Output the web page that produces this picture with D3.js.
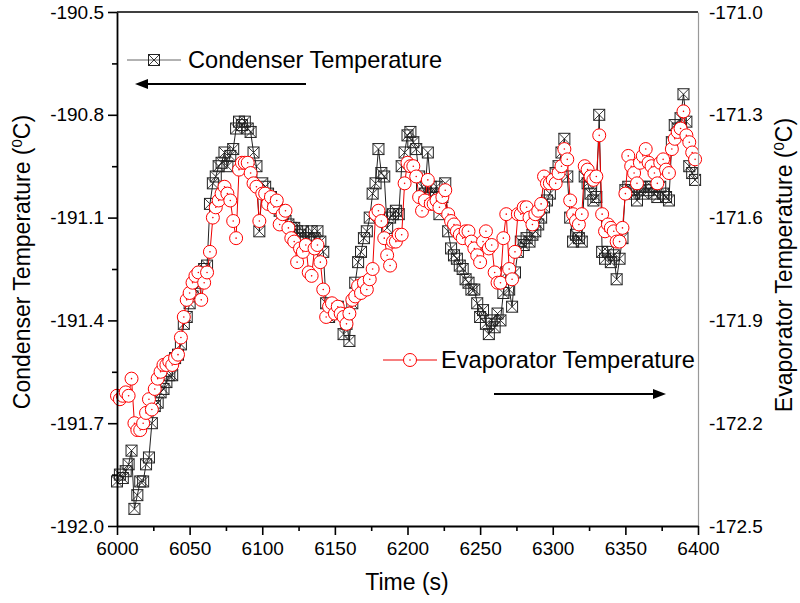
<!DOCTYPE html>
<html>
<head>
<meta charset="utf-8">
<script src="https://cdnjs.cloudflare.com/ajax/libs/d3/7.8.5/d3.min.js"></script>
<style>
  html, body { margin: 0; padding: 0; background: #fff; }
  svg { display: block; font-family: "Liberation Sans", Arial, sans-serif; }
</style>
</head>
<body>
<svg id="chart" width="800" height="603"></svg>
<script>
// ---------------- data ----------------
const timeStart = 6000, timeEnd = 6400, timeStep = 2;
const times = d3.range(timeStart, timeEnd, timeStep);

const condenserTemp = [
  -191.87,-191.85,-191.86,-191.84,-191.82,-191.78,-191.95,-191.91,-191.87,-191.87,
  -191.82,-191.80,-191.70,-191.65,-191.64,-191.61,-191.60,-191.58,-191.56,-191.56,
  -191.51,-191.50,-191.47,-191.41,-191.39,-191.35,-191.33,-191.31,-191.29,-191.26,
  -191.25,-191.24,-191.06,-191.00,-190.98,-190.95,-190.94,-190.91,-190.95,-190.92,
  -190.90,-190.84,-190.82,-190.83,-190.82,-190.84,-190.85,-190.91,-190.95,-191.14,
  -191.00,-191.01,-191.03,-191.04,-191.06,-191.07,-191.08,-191.09,-191.11,-191.12,
  -191.13,-191.13,-191.14,-191.15,-191.14,-191.16,-191.16,-191.14,-191.16,-191.14,
  -191.17,-191.20,-191.35,-191.39,-191.36,-191.38,-191.36,-191.38,-191.44,-191.41,
  -191.46,-191.35,-191.29,-191.23,-191.20,-191.16,-191.14,-191.10,-191.03,-191.00,
  -190.90,-190.97,-190.98,-191.13,-191.10,-191.09,-191.08,-191.09,-190.95,-190.91,
  -190.86,-190.85,-190.88,-190.90,-190.98,-191.01,-191.03,-190.91,-191.01,-191.03,
  -191.01,-191.09,-191.04,-191.00,-191.14,-191.19,-191.21,-191.22,-191.24,-191.25,
  -191.28,-191.29,-191.31,-191.31,-191.35,-191.39,-191.37,-191.41,-191.44,-191.40,
  -191.42,-191.38,-191.40,-191.32,-191.26,-191.31,-191.36,-191.26,-191.20,-191.17,
  -191.18,-191.16,-191.17,-191.15,-191.14,-191.12,-191.10,-191.07,-191.05,-191.03,
  -191.00,-190.97,-190.95,-190.91,-190.87,-190.98,-191.10,-191.17,-191.15,-191.16,
  -191.17,-190.98,-191.00,-191.03,-191.05,-191.04,-190.80,-191.20,-191.22,-191.20,
  -191.23,-191.21,-191.28,-191.22,-191.16,-191.02,-191.01,-191.02,-191.03,-191.05,
  -191.01,-191.03,-191.01,-191.02,-191.01,-191.03,-191.04,-191.01,-191.03,-191.04,
  -191.05,-190.88,-190.83,-190.84,-190.81,-190.74,-190.82,-190.95,-190.97,-190.99
];

const evaporatorTemp = [
  -172.12,-172.13,-172.12,-172.11,-172.12,-172.07,-172.20,-172.22,-172.22,-172.20,
  -172.17,-172.13,-172.16,-172.10,-172.07,-172.05,-172.03,-172.03,-172.02,-172.03,
  -172.01,-172.00,-171.95,-171.89,-171.84,-171.82,-171.79,-171.77,-171.76,-171.84,
  -171.79,-171.76,-171.70,-171.60,-171.57,-171.55,-171.53,-171.51,-171.53,-171.55,
  -171.61,-171.66,-171.46,-171.44,-171.44,-171.44,-171.47,-171.50,-171.51,-171.61,
  -171.53,-171.53,-171.56,-171.54,-171.57,-171.55,-171.62,-171.59,-171.58,-171.63,
  -171.66,-171.67,-171.73,-171.69,-171.70,-171.68,-171.76,-171.77,-171.69,-171.68,
  -171.73,-171.81,-171.89,-171.86,-171.85,-171.88,-171.86,-171.88,-171.89,-171.91,
  -171.88,-171.84,-171.83,-171.80,-171.82,-171.79,-171.81,-171.78,-171.75,-171.59,
  -171.58,-171.61,-171.66,-171.71,-171.74,-171.67,-171.67,-171.65,-171.65,-171.50,
  -171.44,-171.45,-171.45,-171.48,-171.54,-171.58,-171.55,-171.49,-171.56,-171.56,
  -171.55,-171.57,-171.54,-171.52,-171.59,-171.61,-171.62,-171.64,-171.65,-171.66,
  -171.64,-171.64,-171.67,-171.69,-171.71,-171.73,-171.67,-171.64,-171.69,-171.68,
  -171.76,-171.79,-171.79,-171.66,-171.59,-171.75,-171.78,-171.70,-171.59,-171.59,
  -171.57,-171.57,-171.60,-171.62,-171.59,-171.58,-171.56,-171.48,-171.50,-171.50,
  -171.49,-171.50,-171.47,-171.45,-171.40,-171.43,-171.55,-171.59,-171.61,-171.62,
  -171.59,-171.45,-171.46,-171.48,-171.49,-171.48,-171.36,-171.59,-171.64,-171.62,
  -171.63,-171.64,-171.67,-171.67,-171.63,-171.53,-171.42,-171.45,-171.47,-171.50,
  -171.44,-171.42,-171.40,-171.44,-171.45,-171.47,-171.50,-171.44,-171.43,-171.46,
  -171.47,-171.40,-171.37,-171.35,-171.34,-171.29,-171.36,-171.38,-171.41,-171.43
];

const xTicks = [6000, 6050, 6100, 6150, 6200, 6250, 6300, 6350, 6400];
const xMinorTicks = [6025, 6075, 6125, 6175, 6225, 6275, 6325, 6375];
const leftTicks = [-192.0, -191.7, -191.4, -191.1, -190.8, -190.5];
const leftMinorTicks = [-191.85, -191.55, -191.25, -190.95, -190.65];
const rightTicks = [-172.5, -172.2, -171.9, -171.6, -171.3, -171.0];

const seriesNames = ["Condenser Temperature", "Evaporator Temperature"];

// ---------------- layout ----------------
const svg = d3.select("#chart");
const L = 117, R = 698, T = 12, B = 526;

const x = d3.scaleLinear().domain([6000, 6400]).range([L, R]);
const yL = d3.scaleLinear().domain([-192.0, -190.5]).range([B, T]);
const yR = d3.scaleLinear().domain([-172.5, -171.0]).range([B, T]);

const condData = times.map((t, i) => ({ t, v: condenserTemp[i] }));
const evapData = times.map((t, i) => ({ t, v: evaporatorTemp[i] }));

// ---------------- marker helpers ----------------
function boxX(g, cx, cy, s) {
  const h = s / 2;
  g.append("rect").attr("x", cx - h).attr("y", cy - h).attr("width", s).attr("height", s)
    .attr("fill", "none").attr("stroke", "#222").attr("stroke-width", 1);
  g.append("path").attr("d", `M${cx - h},${cy - h}L${cx + h},${cy + h}M${cx + h},${cy - h}L${cx - h},${cy + h}`)
    .attr("stroke", "#222").attr("stroke-width", 0.9).attr("fill", "none");
}
function ringDot(g, cx, cy, r) {
  g.append("circle").attr("cx", cx).attr("cy", cy).attr("r", r)
    .attr("fill", "#fff").attr("stroke", "#ff0000").attr("stroke-width", 1);
  g.append("circle").attr("cx", cx).attr("cy", cy).attr("r", 0.8).attr("fill", "#ff0000");
}

// ---------------- series ----------------
const plot = svg.append("g");

plot.append("path").datum(condData)
  .attr("fill", "none").attr("stroke", "#222").attr("stroke-width", 1)
  .attr("d", d3.line().x(d => x(d.t)).y(d => yL(d.v)));

const sq = plot.append("g");
condData.forEach(d => boxX(sq, x(d.t), yL(d.v), 11));

plot.append("path").datum(evapData)
  .attr("fill", "none").attr("stroke", "#e00").attr("stroke-width", 1)
  .attr("d", d3.line().x(d => x(d.t)).y(d => yR(d.v)));

const circ = plot.append("g");
evapData.forEach(d => ringDot(circ, x(d.t), yR(d.v), 6.5));

// ---------------- axes ----------------
const fmt = d => d.toFixed(1);
const fontSize = "19px";

// top frame line
svg.append("line").attr("x1", L).attr("x2", R).attr("y1", T).attr("y2", T)
  .attr("stroke", "#000").attr("stroke-width", 1.4);

// right axis (labels only, gray line)
const gR = svg.append("g").attr("transform", `translate(${R},0)`)
  .call(d3.axisRight(yR).tickValues(rightTicks).tickFormat(fmt).tickSize(0).tickPadding(11));
gR.select(".domain").attr("stroke", "#999").attr("stroke-width", 1.2);
gR.selectAll("text").attr("font-size", fontSize).attr("font-family", "Liberation Sans, Arial, sans-serif").attr("fill", "#000");

// bottom axis
const gBm = svg.append("g").attr("transform", `translate(0,${B})`)
  .call(d3.axisBottom(x).tickValues(xMinorTicks).tickFormat("").tickSize(5).tickSizeOuter(0));
gBm.select(".domain").remove();
gBm.selectAll("line").attr("stroke-width", 1.6);
const gB = svg.append("g").attr("transform", `translate(0,${B})`)
  .call(d3.axisBottom(x).tickValues(xTicks).tickFormat(d => String(d)).tickSize(9).tickSizeOuter(0).tickPadding(7));
gB.select(".domain").attr("stroke-width", 1.8);
gB.selectAll("line").attr("stroke-width", 1.6);
gB.selectAll("text").attr("font-size", fontSize).attr("font-family", "Liberation Sans, Arial, sans-serif").attr("fill", "#000");

// left axis
const gLm = svg.append("g").attr("transform", `translate(${L},0)`)
  .call(d3.axisLeft(yL).tickValues(leftMinorTicks).tickFormat("").tickSize(5).tickSizeOuter(0));
gLm.select(".domain").remove();
gLm.selectAll("line").attr("stroke-width", 1.6);
const gL = svg.append("g").attr("transform", `translate(${L},0)`)
  .call(d3.axisLeft(yL).tickValues(leftTicks).tickFormat(fmt).tickSize(9).tickSizeOuter(0).tickPadding(4));
gL.select(".domain").attr("stroke-width", 1.8);
gL.selectAll("line").attr("stroke-width", 1.6);
gL.selectAll("text").attr("font-size", fontSize).attr("font-family", "Liberation Sans, Arial, sans-serif").attr("fill", "#000");

// ---------------- titles ----------------
svg.append("text").attr("x", 407).attr("y", 590).attr("text-anchor", "middle")
  .attr("font-size", "23px").text("Time (s)");

function rotTitle(cx, cy, label) {
  const t = svg.append("text").attr("transform", `translate(${cx},${cy}) rotate(-90)`)
    .attr("text-anchor", "middle").attr("font-size", "23px");
  t.append("tspan").text(label + " (");
  t.append("tspan").attr("font-size", "15px").attr("dy", "-8").text("0");
  t.append("tspan").attr("dy", "8").text("C)");
}
rotTitle(30, 262, "Condenser Temperature");
rotTitle(792, 265, "Evaporator Temperature");

// ---------------- legends ----------------
const lg = svg.append("g");
lg.append("line").attr("x1", 127).attr("x2", 181).attr("y1", 60).attr("y2", 60)
  .attr("stroke", "#666").attr("stroke-width", 1);
boxX(lg, 154, 60, 11);
lg.append("text").attr("x", 188).attr("y", 68).attr("font-size", "23.6px").text(seriesNames[0]);

lg.append("line").attr("x1", 383).attr("x2", 437).attr("y1", 360).attr("y2", 360)
  .attr("stroke", "#e00").attr("stroke-width", 1);
ringDot(lg, 410, 360, 6.5);
lg.append("text").attr("x", 441).attr("y", 368).attr("font-size", "23.6px").text(seriesNames[1]);

// arrows
function arrow(x1, x2, y) {
  const dir = Math.sign(x2 - x1);
  lg.append("line").attr("x1", x1).attr("x2", x2 - dir * 10).attr("y1", y).attr("y2", y)
    .attr("stroke", "#000").attr("stroke-width", 2);
  lg.append("path").attr("d", `M${x2},${y}L${x2 - dir * 13},${y - 5}L${x2 - dir * 13},${y + 5}Z`)
    .attr("fill", "#000");
}
arrow(306, 135, 84);
arrow(494, 666, 394);
</script>
</body>
</html>
